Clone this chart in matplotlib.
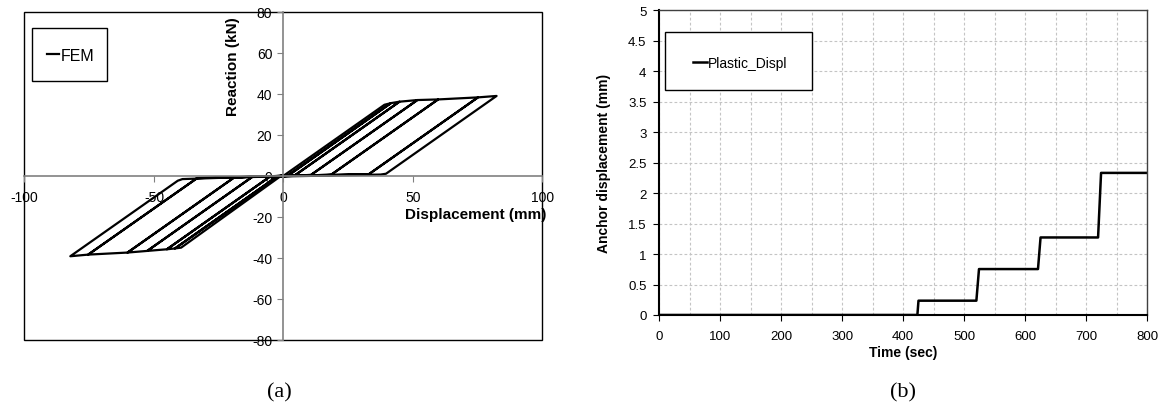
import numpy as np
import matplotlib
matplotlib.use('Agg')
import matplotlib.pyplot as plt
from matplotlib.patches import Rectangle
from matplotlib.ticker import MultipleLocator, FuncFormatter

plt.rcParams['font.family'] = ['Liberation Sans', 'DejaVu Sans']
plt.rcParams['axes.unicode_minus'] = False

# (a) hysteresis path: displacement (mm) / reaction (kN)
disp = [0, 39.0, 41.5, 2.0, -1.0, -39.5, -41.9, -2.4, 2.0, 41.5, 44.8, 4.5,
        -2.4, -41.9, -45.0, -5.1, 4.5, 44.8, 51.7, 10.6, -5.1, -45.0, -52.6,
        -12.0, 10.6, 51.7, 59.7, 18.4, -12.0, -52.6, -60.2, -18.9, 18.4, 59.7,
        75.1, 33.0, -18.9, -60.2, -75.4, -33.3, 33.0, 75.1, 82.3, 39.6, 37.5,
        -33.3, -75.4, -82.3, -40.8, -39.0, 0]
reaction = [0, 34.6, 35.4, 0.3, -0.1, -35.0, -35.4, -0.3, 0.3, 35.4, 36.1, 0.3,
            -0.3, -35.4, -35.8, -0.3, 0.3, 36.1, 36.9, 0.4, -0.3, -35.8, -36.6,
            -0.5, 0.4, 36.9, 37.2, 0.5, -0.5, -36.6, -37.4, -0.7, 0.5, 37.2,
            38.2, 0.8, -0.7, -37.4, -38.4, -1.1, 0.8, 38.2, 38.9, 1.0, 0.6,
            -1.1, -38.4, -39.2, -2.4, -1.6, 0]

# (b) plastic anchor displacement vs time
time_s = [0, 423.5, 425.3, 520.2, 524.5, 621.2, 625.4, 719.7, 724.6, 800]
plastic = [0, 0, 0.235, 0.235, 0.754, 0.754, 1.273, 1.273, 2.333, 2.333]

fig = plt.figure(figsize=(11.65, 4.10), dpi=100)

# ---------------- (a) ----------------
ax1 = fig.add_axes([0.021, 0.1683, 0.4446, 0.801])
ax1.plot(disp, reaction, color='black', lw=1.6, label='FEM')
ax1.set_xlim(-100, 100)
ax1.set_ylim(-80, 80)
ax1.xaxis.set_major_locator(MultipleLocator(50))
ax1.yaxis.set_major_locator(MultipleLocator(20))

gray = '#808080'
for s in ['left', 'bottom']:
    ax1.spines[s].set_position(('data', 0))
    ax1.spines[s].set_color(gray)
    ax1.spines[s].set_linewidth(1.2)
for s in ['top', 'right']:
    ax1.spines[s].set_visible(False)
ax1.add_patch(Rectangle((0, 0), 1, 1, transform=ax1.transAxes, fill=False,
                        edgecolor='black', lw=1.0, clip_on=False, zorder=0))
ax1.tick_params(axis='both', direction='out', length=4, color=gray,
                labelsize=10)
ax1.tick_params(axis='x', pad=6.5)
ax1.tick_params(axis='y', pad=4)

ax1.set_xlabel('Displacement (mm)', fontsize=11, fontweight='bold', loc='right')
ax1.xaxis.set_label_coords(1.008, 0.405)
ax1.set_ylabel('Reaction (kN)', fontsize=11, fontweight='bold')
ax1.yaxis.set_label_coords(0.416, 0.835)

leg1 = ax1.legend(loc='center left', bbox_to_anchor=(0.0429, 0.8676),
                  frameon=False, fontsize=11.5, borderpad=0, borderaxespad=0,
                  handlelength=0.75, handletextpad=0.1)
ax1.add_patch(Rectangle((0.0139, 0.7893), 0.146, 0.1604, transform=ax1.transAxes,
                        fill=False, edgecolor='black', lw=1.0, clip_on=False))

# ---------------- (b) ----------------
ax2 = fig.add_axes([0.5657, 0.2293, 0.4189, 0.7427])
ax2.plot(time_s, plastic, color='black', lw=1.8, label='Plastic_Displ')
ax2.set_xlim(0, 800)
ax2.set_ylim(0, 5)
ax2.xaxis.set_major_locator(MultipleLocator(100))
ax2.xaxis.set_minor_locator(MultipleLocator(50))
ax2.yaxis.set_major_locator(MultipleLocator(0.5))
ax2.yaxis.set_major_formatter(FuncFormatter(lambda v, p: f'{v:g}'))
ax2.grid(True, which='both', color='#c4c4c4', linestyle=(0, (2.5, 2)), lw=0.8)
ax2.set_axisbelow(True)
ax2.tick_params(axis='both', which='major', direction='out', length=4,
                labelsize=9.5, color='black')
ax2.tick_params(axis='x', which='major', pad=6.5)
ax2.tick_params(axis='y', which='major', pad=5)
ax2.tick_params(which='minor', length=0)
for s in ['left', 'bottom']:
    ax2.spines[s].set_color('black')
    ax2.spines[s].set_linewidth(1.5)
for s in ['top', 'right']:
    ax2.spines[s].set_color('#404040')
    ax2.spines[s].set_linewidth(1.0)

ax2.set_xlabel('Time (sec)', fontsize=10, fontweight='bold')
ax2.xaxis.set_label_coords(0.5, -0.0985)
ax2.set_ylabel('Anchor displacement (mm)', fontsize=10, fontweight='bold')
ax2.yaxis.set_label_coords(-0.098, 0.5)

leg2 = ax2.legend(loc='center left', bbox_to_anchor=(0.0697, 0.8276),
                  frameon=False, fontsize=10, borderpad=0, borderaxespad=0,
                  handlelength=1.0, handletextpad=0.1)
ax2.add_patch(Rectangle((0.0123, 0.739), 0.301, 0.1905, transform=ax2.transAxes,
                        facecolor='white', edgecolor='black', lw=1.0,
                        clip_on=False, zorder=2.5))
leg2.set_zorder(3)

fig.text(279 / 1165, 1 - 393 / 410, '(a)', family='Liberation Serif',
         fontsize=16, ha='center', va='center')
fig.text(903 / 1165, 1 - 393 / 410, '(b)', family='Liberation Serif',
         fontsize=16, ha='center', va='center')

fig.savefig('out.png', dpi=100)
